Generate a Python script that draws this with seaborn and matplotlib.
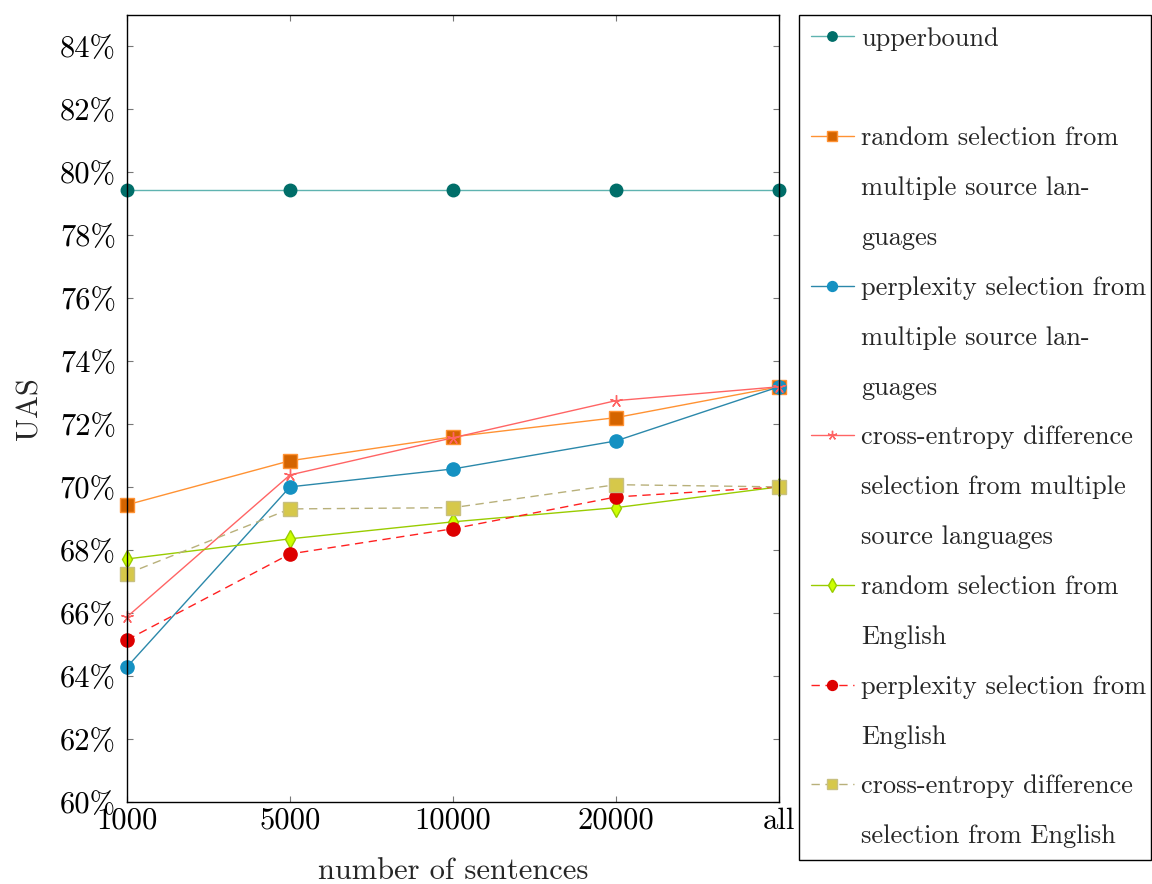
import numpy as np
import matplotlib
matplotlib.use("Agg")
import matplotlib.pyplot as plt
from matplotlib.lines import Line2D
from matplotlib.ticker import FuncFormatter
import seaborn as sns

# Training-set sizes on the x axis
sizes = ["1000", "5000", "10000", "20000", "all"]

# UAS (%) for each selection strategy
upperbound = [79.45, 79.45, 79.45, 79.45, 79.45]
random_multi = [69.44, 70.84, 71.60, 72.21, 73.19]
perplexity_multi = [64.29, 70.01, 70.58, 71.47, 73.19]
xent_multi = [65.88, 70.39, 71.57, 72.75, 73.19]
random_en = [67.72, 68.36, 68.90, 69.35, 70.01]
perplexity_en = [65.15, 67.88, 68.68, 69.69, 70.01]
xent_en = [67.25, 69.31, 69.35, 70.08, 70.01]

y_ticks = list(range(60, 85, 2))

# Legend labels, one list entry per printed line
labels = [
    ["upperbound", " "],
    ["random selection from", "multiple source lan-", "guages"],
    ["perplexity selection from", "multiple source lan-", "guages"],
    ["cross-entropy difference", "selection from multiple", "source languages"],
    ["random selection from", "English"],
    ["perplexity selection from", "English"],
    ["cross-entropy difference", "selection from English"],
]

sns.set_theme(style="white")
plt.rcParams["font.family"] = "serif"
plt.rcParams["font.serif"] = ["cmr10"]
plt.rcParams["axes.formatter.use_mathtext"] = True
plt.rcParams["mathtext.fontset"] = "cm"

fig = plt.figure(figsize=(11.52, 8.84), dpi=100)
ax = fig.add_axes([127 / 1152, 1 - 802 / 884, (779 - 127) / 1152, (802 - 15) / 884])

pos = np.arange(len(sizes))

styles = [
    dict(y=upperbound, color="#5fb3b0", marker="o", mfc="#006e69", mec="#006e69", ms=9, ls="-"),
    dict(y=random_multi, color="#ff9233", marker="s", mfc="#d46400", mec="#ff9233", ms=9.5, ls="-"),
    dict(y=perplexity_multi, color="#2b88aa", marker="o", mfc="#1591c2", mec="#1591c2", ms=9.5, ls="-"),
    dict(y=xent_multi, color="#ff6464", marker=(5, 2, 0), mfc="#ff6464", mec="#ff6464", ms=9, ls="-"),
    dict(y=random_en, color="#99cc00", marker="d", mfc="#ccff00", mec="#99cc00", ms=9, ls="-"),
    dict(y=perplexity_en, color="#ff2020", marker="o", mfc="#dd0000", mec="#dd0000", ms=9.5, ls=(0, (6, 4))),
    dict(y=xent_en, color="#b8b07a", marker="s", mfc="#d6c84a", mec="#c8c080", ms=9.5, ls=(0, (6, 4))),
]

series_lines = []
for st in styles:
    sns.lineplot(x=pos, y=st["y"], ax=ax, color=st["color"], marker=st["marker"],
                 markerfacecolor=st["mfc"], markeredgecolor=st["mec"], markersize=st["ms"],
                 markeredgewidth=1.0, linestyle=st["ls"], linewidth=1.0, clip_on=False)
    series_lines.append(ax.get_lines()[-1])

ax.set_xlim(0, len(sizes) - 1)
ax.set_ylim(60, 85)
ax.set_xticks(pos)
ax.set_xticklabels(sizes)
ax.set_yticks(y_ticks)
ax.yaxis.set_major_formatter(FuncFormatter(lambda v, p: f"{v:.0f}%"))

ax.tick_params(axis="both", direction="in", length=4.5, width=0.8, color="#777777",
               labelsize=22, top=True, right=True, left=True, bottom=True, labelcolor="black")
ax.tick_params(axis="y", pad=8)
ax.tick_params(axis="x", pad=4)
for sp in ax.spines.values():
    sp.set_color("black")
    sp.set_linewidth(1.0)
    sp.set_visible(True)

ax.set_ylabel("UAS", fontsize=22)
ax.set_xlabel("number of sentences", fontsize=22)
ax.yaxis.set_label_coords(-0.128, 0.5)
ax.xaxis.set_label_coords(0.5, -0.07)

# Legend: each wrapped label continues on rows with empty handles
handles, texts = [], []
for line, lab in zip(series_lines, labels):
    handles.append(line)
    texts.append(lab[0])
    for extra in lab[1:]:
        handles.append(Line2D([], [], color="none", marker=None))
        texts.append(extra)

leg = fig.legend(handles, texts, loc="upper left",
                 bbox_to_anchor=(799 / 1152, 0.0, (1151 - 799) / 1152, 1 - 15 / 884),
                 bbox_transform=fig.transFigure, mode="expand", borderaxespad=0,
                 fontsize=19, labelspacing=0.99, handlelength=1.62, handletextpad=0.28,
                 borderpad=0.45, markerscale=0.75, fancybox=False, framealpha=1,
                 edgecolor="black")
leg.get_frame().set_linewidth(1.0)

fig.savefig("out.png", dpi=100)
